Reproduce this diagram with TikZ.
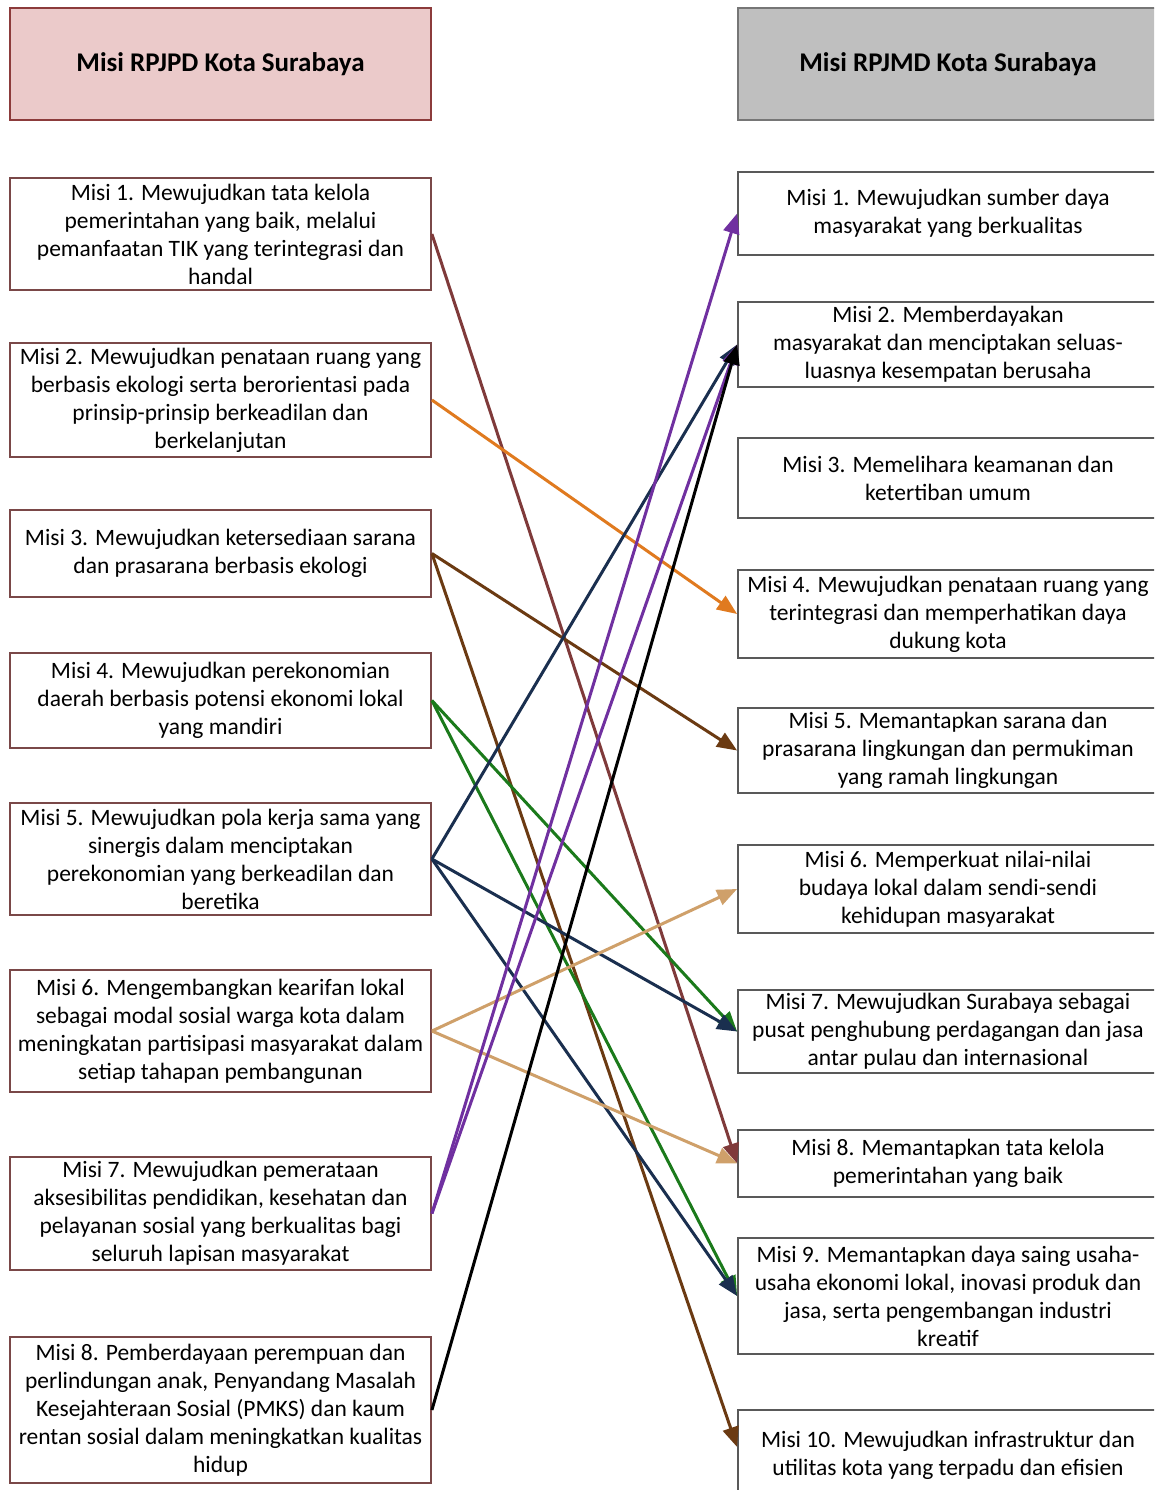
\documentclass[tikz,border=0pt]{standalone}
\usepackage{fontspec}
\setmainfont{Carlito}
\usetikzlibrary{arrows.meta}
\definecolor{lborder}{HTML}{7A4848}
\definecolor{rborder}{HTML}{595959}
\definecolor{lhead}{HTML}{EBCACA}
\definecolor{lheadb}{HTML}{8C3B3B}
\definecolor{rhead}{HTML}{BFBFBF}
\definecolor{rheadb}{HTML}{767676}
\definecolor{cmaroon}{HTML}{7F3A3A}
\definecolor{corange}{HTML}{E07A1F}
\definecolor{cbrown}{HTML}{6B3A12}
\definecolor{cgreen}{HTML}{1B7A1B}
\definecolor{cnavy}{HTML}{1A2F4F}
\definecolor{ctan}{HTML}{CFA06A}
\definecolor{cpurple}{HTML}{7030A0}
\begin{document}
\begin{tikzpicture}[x=1pt,y=-1pt,
  txt/.style={font=\fontsize{23.5}{28}\selectfont, align=center, inner sep=0pt, minimum width=421pt},
  lbox/.style={txt, draw=lborder, line width=1.8pt, fill=white},
  rbox/.style={txt, draw=rborder, line width=1.8pt, fill=white, minimum width=420pt},
  hdr/.style={font=\fontsize{27}{30}\selectfont\bfseries, align=center, inner sep=0pt, minimum width=421pt, minimum height=112pt},
  conn/.style={line width=3pt, -{Triangle[length=20pt,width=16pt]}}
]
\useasboundingbox (0,0) rectangle (1154,1490);
\clip (0,0) rectangle (1154,1490);
\fill[white] (0,0) rectangle (1154,1490);

% headers
\node[hdr, draw=lheadb, line width=2pt, fill=lhead] (hl) at (220.5,64) {Misi RPJPD Kota Surabaya};
\node[hdr, draw=rheadb, line width=2pt, fill=rhead, minimum width=420pt] (hr) at (948,64) {Misi RPJMD Kota Surabaya};

% left boxes
\node[lbox, minimum height=112pt] (L1) at (220.5,234) {Misi 1. Mewujudkan tata kelola\\pemerintahan yang baik, melalui\\pemanfaatan TIK yang terintegrasi dan\\handal};
\node[lbox, minimum height=114pt] (L2) at (220.5,400) {Misi 2. Mewujudkan penataan ruang yang\\berbasis ekologi serta berorientasi pada\\prinsip-prinsip berkeadilan dan\\berkelanjutan};
\node[lbox, minimum height=87pt] (L3) at (220.5,553.5) {Misi 3. Mewujudkan ketersediaan sarana\\dan prasarana berbasis ekologi};
\node[lbox, minimum height=95pt] (L4) at (220.5,700.5) {Misi 4. Mewujudkan perekonomian\\daerah berbasis potensi ekonomi lokal\\yang mandiri};
\node[lbox, minimum height=112pt] (L5) at (220.5,859) {Misi 5. Mewujudkan pola kerja sama yang\\sinergis dalam menciptakan\\perekonomian yang berkeadilan dan\\beretika};
\node[lbox, minimum height=122pt] (L6) at (220.5,1031) {Misi 6. Mengembangkan kearifan lokal\\sebagai modal sosial warga kota dalam\\meningkatan partisipasi masyarakat dalam\\setiap tahapan pembangunan};
\node[lbox, minimum height=113pt] (L7) at (220.5,1213.5) {Misi 7. Mewujudkan pemerataan\\aksesibilitas pendidikan, kesehatan dan\\pelayanan sosial yang berkualitas bagi\\seluruh lapisan masyarakat};
\node[lbox, minimum height=146pt] (L8) at (220.5,1410) {Misi 8. Pemberdayaan perempuan dan\\perlindungan anak, Penyandang Masalah\\Kesejahteraan Sosial (PMKS) dan kaum\\rentan sosial dalam meningkatkan kualitas\\hidup};

% right boxes
\node[rbox, minimum height=83pt] (R1) at (948,213.5) {Misi 1. Mewujudkan sumber daya\\masyarakat yang berkualitas};
\node[rbox, minimum height=85pt] (R2) at (948,344.5) {Misi 2. Memberdayakan\\masyarakat dan menciptakan seluas-\\luasnya kesempatan berusaha};
\node[rbox, minimum height=80pt] (R3) at (948,478) {Misi 3. Memelihara keamanan dan\\ketertiban umum};
\node[rbox, minimum height=88pt] (R4) at (948,614) {Misi 4. Mewujudkan penataan ruang yang\\terintegrasi dan memperhatikan daya\\dukung kota};
\node[rbox, minimum height=85pt] (R5) at (948,750.5) {Misi 5. Memantapkan sarana dan\\prasarana lingkungan dan permukiman\\yang ramah lingkungan};
\node[rbox, minimum height=88pt] (R6) at (948,889) {Misi 6. Memperkuat nilai-nilai\\budaya lokal dalam sendi-sendi\\kehidupan masyarakat};
\node[rbox, minimum height=83pt] (R7) at (948,1031.5) {Misi 7. Mewujudkan Surabaya sebagai\\pusat penghubung perdagangan dan jasa\\antar pulau dan internasional};
\node[rbox, minimum height=67pt] (R8) at (948,1163.5) {Misi 8. Memantapkan tata kelola\\pemerintahan yang baik};
\node[rbox, minimum height=116pt] (R9) at (948,1296) {Misi 9. Memantapkan daya saing usaha-\\usaha ekonomi lokal, inovasi produk dan\\jasa, serta pengembangan industri\\kreatif};
\node[rbox, minimum height=90pt] (R10) at (948,1455) {Misi 10. Mewujudkan infrastruktur dan\\utilitas kota yang terpadu dan efisien};

% connectors
\draw[conn, cmaroon] (L1.east) -- (R8.west);
\draw[conn, corange] (L2.east) -- (R4.west);
\draw[conn, cbrown] (L3.east) -- (R5.west);
\draw[conn, cbrown] (L3.east) -- ([yshift=8pt]R10.west);
\draw[conn, cgreen] (L4.east) -- (R7.west);
\draw[conn, cgreen] (L4.east) -- (R9.west);
\draw[conn, cnavy] (L5.east) -- (R2.west);
\draw[conn, cnavy] (L5.east) -- (R7.west);
\draw[conn, cnavy] (L5.east) -- (R9.west);
\draw[conn, ctan] (L6.east) -- (R6.west);
\draw[conn, ctan] (L6.east) -- (R8.west);
\draw[conn, cpurple] (L7.east) -- (R1.west);
\draw[conn, cpurple] (L7.east) -- (R2.west);
\draw[conn, black] (L8.east) -- (R2.west);
\end{tikzpicture}
\end{document}
